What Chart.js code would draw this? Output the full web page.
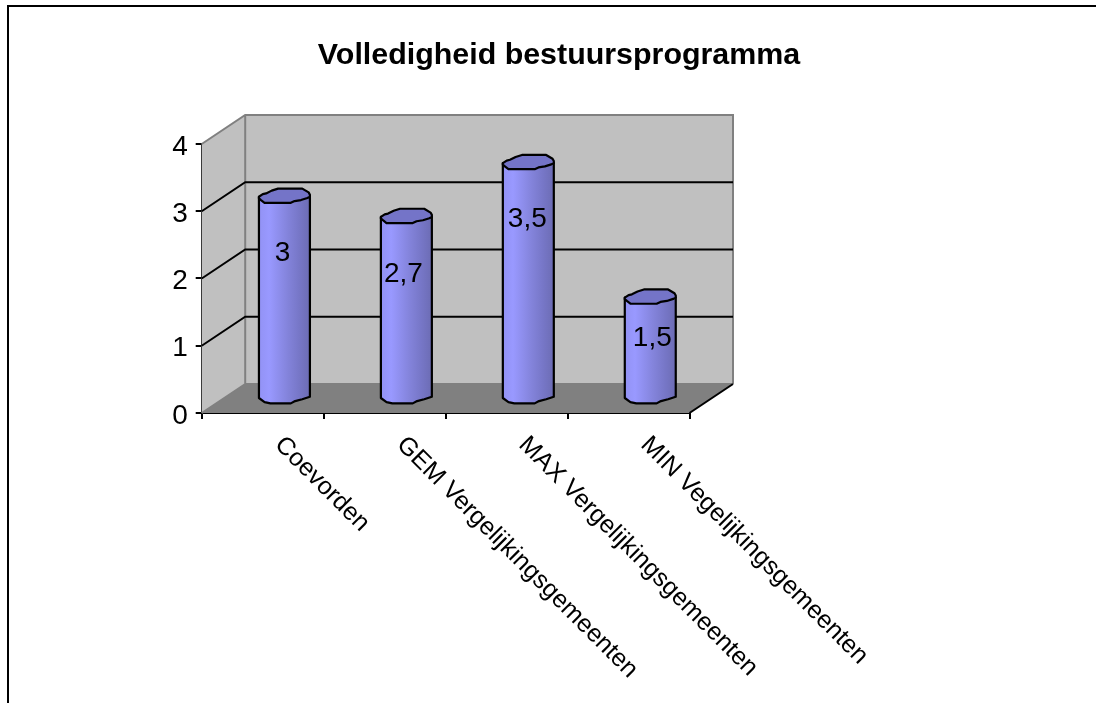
<!DOCTYPE html>
<html>
<head>
<meta charset="utf-8">
<title>Volledigheid bestuursprogramma</title>
<script src="https://cdn.jsdelivr.net/npm/chart.js@4"></script>
<style>
  html, body { margin: 0; padding: 0; background: #fff; overflow: hidden; }
  #wrap { position: relative; width: 1096px; height: 703px; }
  canvas { display: block; }
</style>
</head>
<body>
<div id="wrap"><canvas id="chart" width="1096" height="703"></canvas></div>
<script>
const chartTitle = 'Volledigheid bestuursprogramma';
const categories = ['Coevorden', 'GEM Vergelijkingsgemeenten', 'MAX Vergelijkingsgemeenten', 'MIN Vegelijkingsgemeenten'];
const values = [3, 2.7, 3.5, 1.5];
const valueLabels = ['3', '2,7', '3,5', '1,5'];
const yTicks = [0, 1, 2, 3, 4];

// 3D look: how far the back wall sits from the front axes
const DEPTH_X = 43.5;
const DEPTH_Y = -29;
// where each value label sits relative to the top of its cylinder
const labelDrop = [57, 57, 56, 41];
const labelShift = [-2, -3, -1, 2];
// rough outlines of the cylinder ends, in units of its half width
const capOutline = [[-1, 0], [-0.85, -0.1], [-0.72, -0.13], [-0.5, -0.24], [-0.25, -0.32], [0.7, -0.32], [0.95, -0.17], [1, -0.08], [1, 0], [0.9, 0.05], [0.65, 0.13], [0.4, 0.17], [0.25, 0.24], [-0.78, 0.24], [-0.92, 0.13], [-1, 0.06]];
const baseOutline = [[-1, 0.02], [-0.78, 0.18], [-0.55, 0.23], [0.25, 0.23], [0.42, 0.14], [0.7, 0.07], [1, -0.03]];
const FONT = '"Liberation Sans", Arial, sans-serif';

function line(ctx, x1, y1, x2, y2) {
  ctx.beginPath();
  ctx.moveTo(x1, y1);
  ctx.lineTo(x2, y2);
  ctx.stroke();
}

function poly(ctx, pts, fill) {
  ctx.beginPath();
  pts.forEach((p, i) => i ? ctx.lineTo(p[0], p[1]) : ctx.moveTo(p[0], p[1]));
  ctx.closePath();
  ctx.fillStyle = fill;
  ctx.fill();
}

const walls3d = {
  id: 'walls3d',
  afterLayout(chart) {
    // title is centred over the plot frame, not over the axes
    chart.titleBlock.left = 22;
    chart.titleBlock.right = 1096;
  },
  beforeDatasetsDraw(chart) {
    const { ctx, chartArea: a, scales: { y } } = chart;
    const bx = a.left + DEPTH_X, rx = a.right + DEPTH_X;
    const ty = a.top + DEPTH_Y, by = a.bottom + DEPTH_Y;
    ctx.save();
    poly(ctx, [[bx, ty], [rx, ty], [rx, by], [bx, by]], '#c0c0c0');
    poly(ctx, [[a.left, a.top], [bx, ty], [bx, by], [a.left, a.bottom]], '#c0c0c0');
    poly(ctx, [[a.left, a.bottom], [bx, by], [rx, by], [a.right, a.bottom]], '#808080');

    ctx.strokeStyle = '#808080';
    ctx.lineWidth = 2;
    ctx.beginPath();
    ctx.moveTo(a.left, a.top);
    ctx.lineTo(bx, ty);
    ctx.lineTo(rx, ty);
    ctx.lineTo(rx, by);
    ctx.moveTo(bx, ty);
    ctx.lineTo(bx, by);
    ctx.lineTo(rx, by);
    ctx.moveTo(bx, by);
    ctx.lineTo(a.left, a.bottom);
    ctx.stroke();

    ctx.strokeStyle = '#000';
    line(ctx, a.right, a.bottom, rx, by);
    yTicks.slice(1, -1).forEach(v => {
      const py = y.getPixelForValue(v);
      ctx.beginPath();
      ctx.moveTo(a.left, py);
      ctx.lineTo(bx, py + DEPTH_Y);
      ctx.lineTo(rx, py + DEPTH_Y);
      ctx.stroke();
    });
    ctx.restore();
  },
  beforeDatasetDraw(chart, args) {
    // cylinders are drawn from the bar elements, half way into the depth
    const { ctx } = chart;
    const bars = chart.getDatasetMeta(args.index).data;
    ctx.save();
    ctx.lineJoin = 'round';
    ctx.lineWidth = 2.2;
    ctx.strokeStyle = '#000';
    bars.forEach(bar => {
      const cx = bar.x + DEPTH_X / 2;
      const top = bar.y + DEPTH_Y / 2;
      const base = bar.base + DEPTH_Y / 2;
      const r = bar.width / 2;
      const grad = ctx.createLinearGradient(cx - r, 0, cx + r, 0);
      grad.addColorStop(0, '#9292f4');
      grad.addColorStop(0.2, '#9999ff');
      grad.addColorStop(0.55, '#8484dc');
      grad.addColorStop(0.8, '#7676c6');
      grad.addColorStop(1, '#6c6cb4');

      ctx.beginPath();
      ctx.moveTo(cx - r, top);
      baseOutline.forEach(p => ctx.lineTo(cx + p[0] * r, base + p[1] * r));
      ctx.lineTo(cx + r, top);
      ctx.closePath();
      ctx.fillStyle = grad;
      ctx.fill();
      ctx.stroke();

      ctx.beginPath();
      capOutline.forEach((p, k) => {
        const px = cx + p[0] * r, py = top + p[1] * r;
        k ? ctx.lineTo(px, py) : ctx.moveTo(px, py);
      });
      ctx.closePath();
      ctx.fillStyle = '#7474c8';
      ctx.fill();
      ctx.stroke();
    });
    ctx.restore();
    return false;
  },
  afterDatasetsDraw(chart) {
    const { ctx, scales: { x } } = chart;
    const bars = chart.getDatasetMeta(0).data;
    ctx.save();
    ctx.fillStyle = '#000';
    ctx.font = '28px ' + FONT;
    ctx.textAlign = 'center';
    ctx.textBaseline = 'middle';
    bars.forEach((bar, i) => {
      ctx.fillText(valueLabels[i], bar.x + DEPTH_X / 2 + labelShift[i], bar.y + DEPTH_Y / 2 + labelDrop[i]);
    });
    // category labels run down to the right from under each category
    ctx.font = '25px ' + FONT;
    ctx.textAlign = 'left';
    categories.forEach((name, i) => {
      ctx.save();
      ctx.translate(x.getPixelForValue(i) + 16, x.bottom + 22);
      ctx.rotate(Math.PI / 4);
      ctx.fillText(name, 0, 0);
      ctx.restore();
    });
    ctx.restore();
  }
};

const frame = {
  id: 'frame',
  beforeDraw(chart) {
    const { ctx } = chart;
    ctx.save();
    ctx.strokeStyle = '#000';
    ctx.lineWidth = 2;
    ctx.beginPath();
    ctx.moveTo(8, 703);
    ctx.lineTo(8, 6);
    ctx.lineTo(1096, 6);
    ctx.stroke();
    ctx.restore();
  }
};

new Chart(document.getElementById('chart'), {
  type: 'bar',
  data: {
    labels: categories,
    datasets: [{ data: values, backgroundColor: '#9999ff', categoryPercentage: 1, barPercentage: 0.418 }]
  },
  plugins: [frame, walls3d],
  options: {
    responsive: false,
    animation: false,
    layout: { padding: { left: 140, right: 406.5, top: 0, bottom: 284 } },
    plugins: {
      legend: { display: false },
      tooltip: { enabled: false },
      title: {
        display: true,
        text: chartTitle,
        color: '#000',
        font: { family: FONT, size: 30.4, weight: 'bold' },
        padding: { top: 37, bottom: 70.5 }
      }
    },
    scales: {
      x: {
        grid: { drawOnChartArea: false, color: '#000', lineWidth: 2, tickLength: 6 },
        border: { color: '#000', width: 2 },
        ticks: { display: false },
        afterFit(s) { s.height = 6; }
      },
      y: {
        min: 0,
        max: 4,
        grid: { drawOnChartArea: false, color: '#000', lineWidth: 2, tickLength: 6 },
        border: { color: '#000', width: 2 },
        ticks: { stepSize: 1, color: '#000', padding: 8, labelOffset: 3, font: { family: FONT, size: 28 } },
        afterFit(s) { s.width = 61.7; }
      }
    }
  }
});
</script>
</body>
</html>
